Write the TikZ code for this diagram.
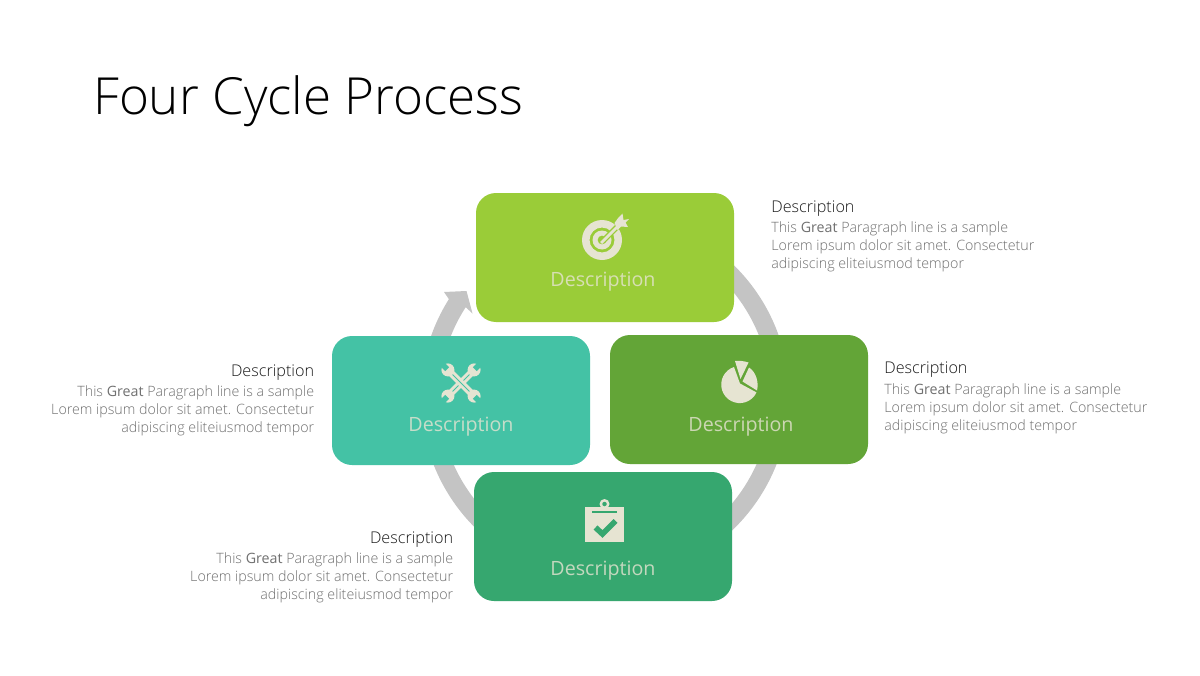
\documentclass[tikz,border=0pt]{standalone}
\usepackage{fontspec}
\setmainfont{Open Sans}
\newfontfamily\titlefont{Open Sans Light}
\newfontfamily\blurbfont[BoldFont=Open Sans]{Open Sans Light}
\usetikzlibrary{
  positioning,
  calc,
}
\definecolor{limegreen}{HTML}{9ACC38}
\definecolor{seagreen}{HTML}{44C2A5}
\definecolor{leafgreen}{HTML}{63A537}
\definecolor{pinegreen}{HTML}{36A76F}
\definecolor{ringgray}{HTML}{C4C4C4}
\definecolor{iconcream}{HTML}{E6E4D2}
\definecolor{ink}{HTML}{1A1A1A}
\definecolor{muted}{HTML}{707070}
\tikzset{
  stagebox/.style={
    fill=#1,
    rounded corners=0.4cm,
    minimum width=5.16cm,
    minimum height=2.58cm,
    inner sep=0pt,
  },
  stagelabel/.style={font=\fontsize{11.2}{13}\selectfont\color{#1!20!iconcream}},
  heading/.style={font=\blurbfont\fontsize{9.2}{12}\selectfont, text=ink, inner sep=0pt},
  blurb/.style={font=\blurbfont\fontsize{8.1}{10.25}\selectfont, text=muted, inner sep=0pt},
  ringline/.style={draw=ringgray, line width=0.37cm},
  pics/target/.style={
    code={
      \fill[iconcream, even odd rule] (0,0) circle (0.40) (0,0) circle (0.25);
      \fill[iconcream, even odd rule] (0,0) circle (0.19) (0,0) circle (0.09);
      \draw[#1, line width=3.2pt] (0.02,-0.02) -- (0.34,0.30);
      \draw[iconcream, line width=1.6pt] (-0.02,-0.06) -- (0.32,0.28);
      \fill[iconcream] (0.25,0.34) -- (0.31,0.20) -- (0.38,0.27) -- (0.52,0.26)
        -- (0.47,0.35) -- (0.54,0.42) -- (0.43,0.40) -- (0.41,0.53) -- (0.33,0.45) -- cycle;
    }
  },
  pics/wrench/.style={
    code={
      \fill[iconcream] (-0.07,-0.30) rectangle (0.07,0.30);
      \draw[#1, line width=0.5pt] (0,-0.27) -- (0,0.27);
      \fill[iconcream] (0,0.37) circle (0.13);
      \fill[iconcream] (0,-0.37) circle (0.13);
      \fill[#1] (-0.055,0.39) rectangle (0.055,0.53);
      \fill[#1] (-0.055,-0.39) rectangle (0.055,-0.53);
    }
  },
  pics/piechart/.style={
    code={
      \fill[iconcream] (0.01,0.01) -- (-0.11,0.34)
        arc[start angle=108,end angle=335,radius=0.37] -- cycle;
      \fill[iconcream] (0.06,0.05) -- (0.19,0.33)
        .. controls (0.33,0.24) and (0.39,0.04) .. (0.35,-0.13) -- cycle;
      \fill[iconcream] (-0.09,0.46) .. controls (0,0.47) and (0.09,0.46) .. (0.18,0.43)
        -- (0.02,0.10) -- cycle;
    }
  },
  pics/clipboard/.style={
    code={
      \fill[iconcream] (-0.39,-0.35) rectangle (0.39,0.35);
      \fill[iconcream] (0,0.40) circle (0.10);
      \fill[#1] (0,0.40) circle (0.045);
      \draw[#1, line width=0.9pt] (-0.25,0.24) -- (0.25,0.24);
      \draw[#1, line width=3.2pt] (-0.18,-0.07) -- (-0.04,-0.20) -- (0.22,0.06);
    }
  },
}
\begin{document}
\begin{tikzpicture}[x=1cm,y=1cm]
  \useasboundingbox (0,0) rectangle (24,13.5);
  \fill[white] (0,0) rectangle (24,13.5);
  \node[font=\titlefont\fontsize{29.1}{35}\selectfont, text=black, anchor=west, inner sep=0pt]
    (title) at (1.86,11.48) {Four Cycle Process};

  % Ring behind the boxes
  \coordinate (ringc) at (12.10,5.56);
  \draw[ringline] ($(ringc)+(146:3.5)$) arc[start angle=146,end angle=450,radius=3.5];
  \fill[ringgray] (8.88,7.66) -- (9.33,7.68) -- (9.45,7.23) -- (9.32,7.35)
    -- (8.99,7.50) -- cycle;

  % Stage boxes
  \node[stagebox=limegreen] (plan) at (12.10,8.35) {};
  \node[stagebox=seagreen] (tools) at (9.22,5.49) {};
  \node[stagebox=leafgreen] (chart) at (14.78,5.51) {};
  \node[stagebox=pinegreen] (check) at (12.06,2.77) {};

  \node[stagelabel=limegreen] (planlabel) at (12.06,7.87) {Description};
  \node[stagelabel=seagreen] (toolslabel) at (9.22,4.97) {Description};
  \node[stagelabel=leafgreen] (chartlabel) at (14.82,4.97) {Description};
  \node[stagelabel=pinegreen] (checklabel) at (12.06,2.09) {Description};

  % Icons
  \pic at (12.04,8.70) {target=limegreen};
  \pic[rotate=-45] at (9.22,5.84) {wrench=seagreen};
  \pic[rotate=45] at (9.22,5.84) {wrench=seagreen};
  \pic at (14.79,5.82) {piechart};
  \pic at (12.09,3.02) {clipboard=pinegreen};

  % Texts beside the boxes
  \foreach \nm/\x/\yh/\yb in {planright/15.42/9.32/8.57,chartright/17.68/6.10/5.33} {
    \node[heading, anchor=west] (\nm head) at (\x,\yh) {Description};
    \node[blurb, anchor=west, align=left] (\nm text) at (\x,\yb)
      {This \textbf{Great} Paragraph line is a sample\\Lorem ipsum dolor sit amet. Consectetur\\adipiscing eliteiusmod tempor};
  }
  \foreach \nm/\x/\yh/\yb in {toolsleft/6.29/6.04/5.28,checkleft/9.07/2.70/1.94} {
    \node[heading, anchor=east] (\nm head) at (\x,\yh) {Description};
    \node[blurb, anchor=east, align=right] (\nm text) at (\x,\yb)
      {This \textbf{Great} Paragraph line is a sample\\Lorem ipsum dolor sit amet. Consectetur\\adipiscing eliteiusmod tempor};
  }
\end{tikzpicture}
\end{document}
